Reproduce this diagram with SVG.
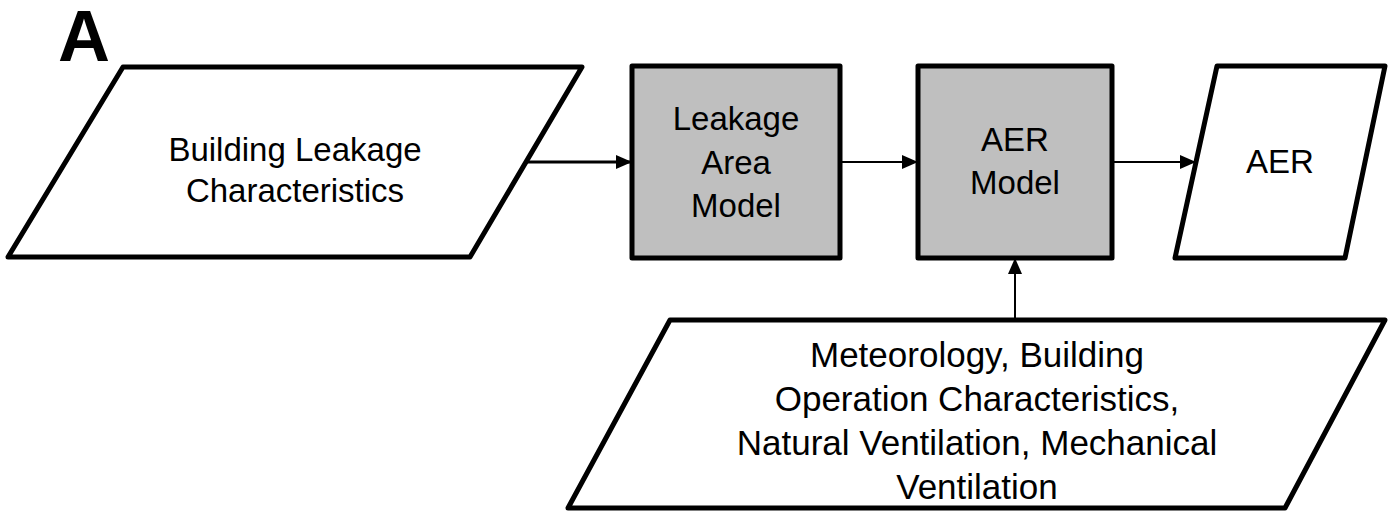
<svg xmlns="http://www.w3.org/2000/svg" width="1395" height="518" viewBox="0 0 1395 518">
<style>
.shape{stroke:#000;stroke-width:5;stroke-linejoin:round}
.io{fill:#fff}
.proc{fill:#bfbfbf}
.t{font-family:"Liberation Sans",Arial,sans-serif;font-size:33px;fill:#000;text-anchor:middle}
.tb{font-size:35px}
.c{stroke:#000;fill:none}
</style>
<defs>
<marker id="ah" markerUnits="userSpaceOnUse" markerWidth="16" markerHeight="14" refX="16" refY="7" orient="auto">
<path d="M0,0 L16,7 L0,14 Z" fill="#000"/>
</marker>
</defs>
<text x="58" y="61" font-family="Liberation Sans,Arial,sans-serif" font-weight="bold" font-size="72" fill="#000">A</text>
<g id="building-leakage">
<polygon class="shape io" points="123,67 582,67 470,257 8,257"/>
<text class="t" x="295" y="161">Building Leakage</text>
<text class="t" x="295" y="202">Characteristics</text>
</g>
<g id="leakage-area-model">
<rect class="shape proc" x="632" y="66" width="208" height="192"/>
<text class="t" x="736" y="130">Leakage</text>
<text class="t" x="736" y="174">Area</text>
<text class="t" x="736" y="217">Model</text>
</g>
<g id="aer-model">
<rect class="shape proc" x="918" y="66" width="194" height="192"/>
<text class="t" x="1015" y="151">AER</text>
<text class="t" x="1015" y="194">Model</text>
</g>
<g id="aer">
<polygon class="shape io" points="1217,66 1385,66 1345,258 1175,258"/>
<text class="t" x="1280" y="173">AER</text>
</g>
<g id="inputs">
<polygon class="shape io" points="670,320 1385,320 1285,508 568,508"/>
<text class="t tb" x="977" y="367">Meteorology, Building</text>
<text class="t tb" x="977" y="411">Operation Characteristics,</text>
<text class="t tb" x="977" y="455">Natural Ventilation, Mechanical</text>
<text class="t tb" x="977" y="499">Ventilation</text>
</g>
<g id="connectors">
<line class="c" x1="526" y1="162" x2="632" y2="162" stroke-width="3" marker-end="url(#ah)"/>
<line class="c" x1="842" y1="162" x2="918" y2="162" stroke-width="2" marker-end="url(#ah)"/>
<line class="c" x1="1114" y1="162" x2="1196" y2="162" stroke-width="2" marker-end="url(#ah)"/>
<line class="c" x1="1015" y1="320" x2="1015" y2="258" stroke-width="2" marker-end="url(#ah)"/>
</g>
</svg>
